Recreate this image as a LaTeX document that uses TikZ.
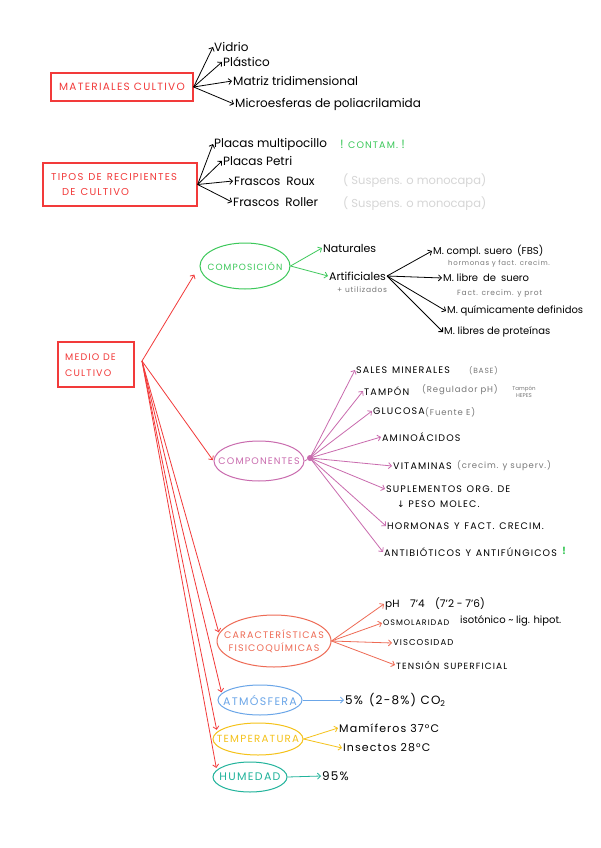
\documentclass[tikz,border=0pt]{standalone}
\usepackage{fontspec}
\setmainfont{Poppins}
\newfontfamily\symf{DejaVu Sans}
\newfontfamily\capsf[LetterSpace=12]{Poppins}
\newfontfamily\widef[LetterSpace=10]{Poppins}
\usetikzlibrary{arrows.meta,shapes.geometric}
\definecolor{cred}{HTML}{F23A3A}
\definecolor{cgreen}{HTML}{3CC85A}
\definecolor{cpink}{HTML}{C96BAE}
\definecolor{csalmon}{HTML}{EE6B55}
\definecolor{cblue}{HTML}{6BA6E8}
\definecolor{cyellow}{HTML}{F5C21A}
\definecolor{cteal}{HTML}{21B39B}
\definecolor{cgray}{HTML}{777777}
\definecolor{clight}{HTML}{D6D6D6}
\begin{document}
\begin{tikzpicture}[x=1pt,y=-1pt,
  tx/.style={anchor=west,inner sep=1pt,font=\fontsize{12}{14}\selectfont,text=black},
  md/.style={anchor=west,inner sep=1pt,font=\fontsize{10}{12}\selectfont,text=black},
  cp/.style={anchor=west,inner sep=1pt,font=\capsf\fontsize{9.5}{11}\selectfont,text=black},
  sm/.style={anchor=west,inner sep=1pt,font=\widef\fontsize{7.5}{8.5}\selectfont,text=cgray},
  gs/.style={anchor=west,inner sep=1pt,font=\widef\fontsize{8.5}{10}\selectfont,text=cgray},
  lg/.style={anchor=west,inner sep=1pt,font=\fontsize{11.5}{13}\selectfont,text=clight},
  ar/.style={-{Straight Barb[length=3pt,width=6pt]},line width=0.8pt},
  bx/.style={draw=cred,line width=1.3pt,inner sep=0pt},
  bt/.style={text=cred,font=\capsf\fontsize{10.5}{16}\selectfont,align=left,inner sep=0pt},
  ell/.style={ellipse,draw,line width=1pt,inner sep=0pt},
  et/.style={font=\capsf\fontsize{9.5}{13}\selectfont,align=center,inner sep=0pt},
  eb/.style={font=\capsf\fontsize{11}{13}\selectfont,align=center,inner sep=0pt}]
\useasboundingbox[fill=white] (0,0) rectangle (600,848);

% ---------- MATERIALES CULTIVO ----------
\node[bx,minimum width=142pt,minimum height=28pt] (mat) at (122,87) {};
\node[bt] (matt) at (mat) {MATERIALES CULTIVO};
\node[tx] (vid) at (213,47) {Vidrio};
\node[tx] (pla) at (222,62) {Plástico};
\node[tx] (mtr) at (232,81) {Matriz tridimensional};
\node[tx] (mic) at (234,104) {Microesferas de poliacrilamida};
\foreach \t in {vid,pla,mtr,mic}
  \draw[ar] (mat.east) -- (\t.west);

% ---------- TIPOS DE RECIPIENTES ----------
\node[bx,minimum width=154pt,minimum height=43pt] (tip) at (120,184.5) {};
\node[bt,anchor=west,font=\capsf\fontsize{10}{15}\selectfont] (tipt) at (51,185) {TIPOS\enspace DE\enspace RECIPIENTES\\\hspace*{11pt}DE\enspace CULTIVO};
\node[tx] (pmp) at (213,144) {Placas multipocillo};
\node[tx,text=cgreen] (cont) at (339,144) {! {\capsf\fontsize{9.5}{10}\selectfont CONTAM.} !};
\node[tx] (ppe) at (222,161) {Placas Petri};
\node[tx] (fro) at (233,181) {Frascos\enspace Roux};
\node[lg] (fro2) at (342,181) {( Suspens. o monocapa)};
\node[tx] (frl) at (232,202) {Frascos\enspace Roller};
\node[lg] (frl2) at (342,204) {( Suspens. o monocapa)};
\foreach \t in {pmp,ppe,fro,frl}
  \draw[ar] (tip.east) -- (\t.west);

% ---------- MEDIO DE CULTIVO ----------
\node[bx,minimum width=76pt,minimum height=45pt] (med) at (96,364.5) {};
\node[bt,anchor=west,font=\capsf\fontsize{9.5}{16}\selectfont] (medt) at (65,365) {MEDIO DE\\CULTIVO};
\coordinate (hub) at (142,361);

% ---------- COMPOSICION ----------
\node[ell,draw=cgreen,minimum width=90pt,minimum height=46pt] (comp) at (245,266) {};
\node[et,text=cgreen,font=\capsf\fontsize{9}{12}\selectfont] (compt) at (comp) {COMPOSICIÓN};
\node[tx,font=\fontsize{11}{13}\selectfont] (nat) at (322,248) {Naturales};
\node[tx,font=\fontsize{11}{13}\selectfont] (art) at (328,276) {Artificiales};
\node[sm] (artu) at (336,290) {+ utilizados};
\draw[ar,cgreen] (comp.east) -- (nat.west);
\draw[ar,cgreen] (comp.east) -- (art.west);
\node[md] (mcs) at (432,251) {M. compl. suero\enspace (FBS)};
\node[sm,font=\widef\fontsize{7}{8}\selectfont] (mcs2) at (447,264) {hormonas y fact. crecim.};
\node[md] (mls) at (442,278) {M. libre\enspace de\enspace suero};
\node[sm] (mls2) at (456,294) {Fact. crecim. y prot};
\node[md] (mqd) at (446,311) {M. químicamente definidos};
\node[md] (mlp) at (443,332) {M. libres de proteínas};
\foreach \t in {mcs,mls,mqd,mlp}
  \draw[ar] (art.east) -- (\t.west);

% ---------- COMPONENTES ----------
\node[ell,draw=cpink,minimum width=90pt,minimum height=40pt] (cmp) at (259,461) {};
\node[et,text=cpink] (cmpt) at (cmp) {COMPONENTES};
\node[circle,fill=cpink,inner sep=0pt,minimum size=6pt] (dot) at (310,458) {};
\draw[cpink,line width=0.8pt] (cmp.east) -- (dot);
\node[cp] (sal) at (355,370) {SALES\enspace MINERALES};
\node[sm] (sal2) at (468,371) {(BASE)};
\node[cp] (tam) at (363,391) {TAMPÓN};
\node[gs] (tam2) at (421,390) {(Regulador pH)};
\node[sm,anchor=center,align=center,font=\fontsize{5.5}{6.5}\selectfont] (tam3) at (524,392) {Tampón\\HEPES};
\node[cp] (glu) at (372,411) {GLUCOSA};
\node[gs] (glu2) at (424,412) {(Fuente E)};
\node[cp] (ami) at (381,437) {AMINOÁCIDOS};
\node[cp] (vit) at (392,466) {VITAMINAS};
\node[gs] (vit2) at (456,466) {(crecim. y superv.)};
\node[cp] (sup) at (385,489) {SUPLEMENTOS\enspace ORG.\enspace DE};
\node[cp] (sup2) at (396,504) {{\symf\fontsize{9}{10}\selectfont ↓} PESO\enspace MOLEC.};
\node[cp] (hor) at (386,526) {HORMONAS\enspace Y\enspace FACT.\enspace CRECIM.};
\node[cp] (ant) at (383,552) {ANTIBIÓTICOS\enspace Y\enspace ANTIFÚNGICOS};
\node[cp,text=cgreen,font=\bfseries\fontsize{10}{10}\selectfont] (antx) at (561,551) {!};
\foreach \t in {sal,tam,glu,ami,vit,sup,hor,ant}
  \draw[ar,cpink] (dot.center) -- (\t.west);

% ---------- CARACTERISTICAS ----------
\node[ell,draw=csalmon,minimum width=114pt,minimum height=52pt] (car) at (274,641) {};
\node[et,text=csalmon] (cart) at (car) {CARACTERÍSTICAS\\FISICOQUÍMICAS};
\node[tx,font=\fontsize{10.5}{12}\selectfont] (ph) at (384,604) {pH\quad 7'4\quad (7'2 - 7'6)};
\node[cp,font=\capsf\fontsize{8}{9}\selectfont] (osm) at (382,623) {OSMOLARIDAD};
\node[md] (osm2) at (459,621) {isotónico \textasciitilde{} lig. hipot.};
\node[cp,font=\capsf\fontsize{8.5}{10}\selectfont] (vis) at (392,643) {VISCOSIDAD};
\node[cp,font=\capsf\fontsize{9}{10}\selectfont] (ten) at (395,665) {TENSIÓN\enspace SUPERFICIAL};
\foreach \t in {ph,osm,vis,ten}
  \draw[ar,csalmon] (car.east) -- (\t.west);

% ---------- ATMOSFERA ----------
\node[ell,draw=cblue,minimum width=84pt,minimum height=30pt] (atm) at (260,700) {};
\node[eb,text=cblue] (atmt) at (atm) {ATMÓSFERA};
\node[tx,font=\widef\fontsize{12}{14}\selectfont] (co2) at (344,700) {5\%\enspace (2-8\%) CO\textsubscript{2}};
\draw[ar,cblue] (atm.east) -- (co2.west);

% ---------- TEMPERATURA ----------
\node[ell,draw=cyellow,minimum width=90pt,minimum height=32pt] (tem) at (258,739) {};
\node[eb,text=cyellow,font=\capsf\fontsize{10.3}{12}\selectfont] (temt) at (tem) {TEMPERATURA};
\node[tx,font=\widef\fontsize{11}{13}\selectfont] (mam) at (338,728) {Mamíferos 37°C};
\node[tx,font=\widef\fontsize{11}{13}\selectfont] (ins) at (342,748) {Insectos 28°C};
\draw[ar,cyellow] (tem.east) -- (mam.west);
\draw[ar,cyellow] (tem.east) -- (ins.west);

% ---------- HUMEDAD ----------
\node[ell,draw=cteal,minimum width=74pt,minimum height=30pt] (hum) at (250,777) {};
\node[eb,text=cteal] (humt) at (hum) {HUMEDAD};
\node[tx,font=\widef\fontsize{12}{14}\selectfont] (h95) at (321,776) {95\%};
\draw[ar,cteal] (hum.east) -- (h95.west);

% ---------- arrows from MEDIO ----------
\draw[ar,cred,shorten >=10pt] (hub) -- (comp.west);
\draw[ar,cred,shorten >=1pt] (hub) -- (cmp.west);
\draw[ar,cred,shorten >=1pt] (hub) -- (car.172);
\draw[ar,cred,shorten >=1pt] (hub) -- (atm.170);
\draw[ar,cred,shorten >=2pt] (hub) -- (tem.170);
\draw[ar,cred,shorten >=2pt] (hub) -- (hum.168);
\end{tikzpicture}
\end{document}
